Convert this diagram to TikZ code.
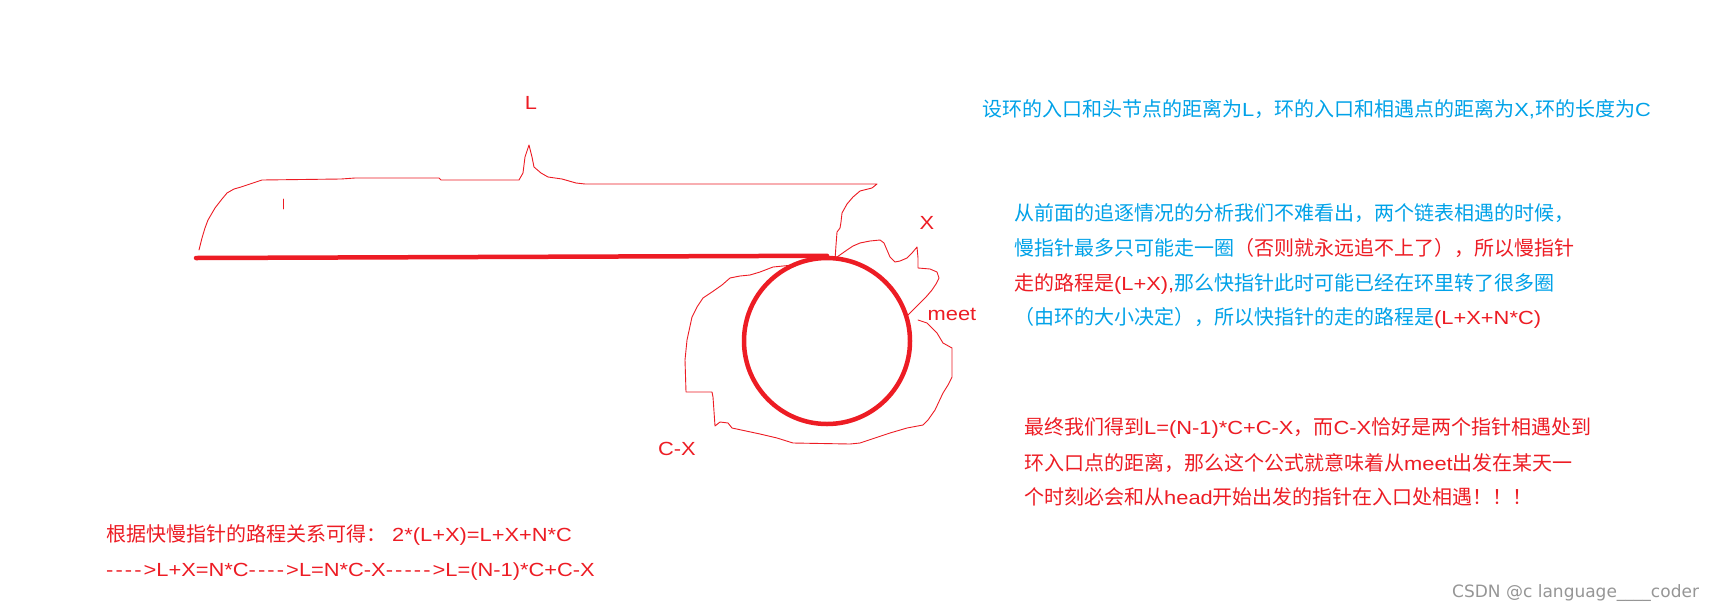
\documentclass[tikz,border=0pt]{standalone}
\usepackage{fontspec}
\newfontfamily\cjk{Noto Sans CJK SC}
\newfontfamily\lat[Scale=0.95,FakeStretch=1.15]{Liberation Sans}
\newfontfamily\wmfont{DejaVu Sans}
\newcommand\latn[1]{{\lat #1}}
\newcommand\dsh{-\kern2.1pt}
\definecolor{pred}{RGB}{237,28,36}
\definecolor{pblue}{RGB}{0,162,232}
\definecolor{wmgray}{RGB}{150,150,150}
\tikzset{
  txt/.style={anchor=base west, inner sep=0pt, font=\cjk\fontsize{20pt}{24pt}\selectfont},
  bluetxt/.style={txt, text=pblue},
  redtxt/.style={txt, text=pred},
  lbl/.style={inner sep=0pt, text=pred, font=\lat\fontsize{20pt}{24pt}\selectfont},
  hand/.style={draw=pred, line width=0.9pt, line join=round, line cap=round},
  heavy/.style={draw=pred, line width=4.5pt, line cap=round},
  ringstyle/.style={circle, draw=pred, line width=4.5pt, minimum size=166pt, inner sep=0pt},
  wmark/.style={anchor=base west, inner sep=0pt, text=wmgray, font=\wmfont\fontsize{17pt}{20pt}\selectfont}
}
\begin{document}
\begin{tikzpicture}[x=1pt, y=-1pt]
\useasboundingbox (0,0) rectangle (1724,611);
\fill[white] (0,0) rectangle (1724,611);

% ring and straight part
\coordinate (head) at (196,258);
\node[ringstyle] (ring) at (827,341) {};
\draw[heavy] (head) -- (ring.north);

% hand-drawn brace for L
\draw[hand] (199,250) -- (202,238) -- (205,228) -- (208,220) -- (215,208) -- (222,199) -- (227,193) -- (234,189) -- (241,187) -- (250,184) -- (262,180) -- (341,179) -- (355,178) -- (439,178) -- (441,180) -- (519,180) -- (523,173) -- (525,157) -- (529,145) -- (532,157) -- (534,167) -- (541,173) -- (548,177) -- (562,179) -- (576,183) -- (585,184) -- (877,184) -- (872,188) -- (860,191) -- (853,197) -- (847,204) -- (842,213) -- (841,222) -- (840,228) -- (837,232) -- (836,245) -- (835,260);
\draw[hand] (283,199) -- (283,209);

% hand-drawn brace for X
\draw[hand] (837,257) -- (847,250) -- (853,246) -- (860,243) -- (870,241) -- (880,240) -- (884,243) -- (887,250) -- (890,257) -- (895,262) -- (900,261) -- (907,258) -- (912,253) -- (917,247) -- (918,258) -- (918,268) -- (930,269) -- (937,272) -- (939,278) -- (936,284) -- (932,290) -- (926,297) -- (920,303) -- (914,309) -- (908,315);

% hand-drawn brace for C-X
\draw[hand] (918,320) -- (927,323) -- (932,328) -- (937,333) -- (943,343) -- (952,348) -- (952,377) -- (948,385) -- (943,393) -- (935,410) -- (928,420) -- (923,425) -- (907,428) -- (890,433) -- (860,443) -- (850,444) -- (793,443) -- (777,438) -- (760,434) -- (732,428) -- (728,423) -- (720,422) -- (715,426) -- (713,397) -- (712,392) -- (686,392) -- (685,360) -- (687,340) -- (692,317) -- (697,307) -- (703,298) -- (712,292) -- (722,285) -- (730,278) -- (740,276) -- (750,275) -- (760,272) -- (773,267) -- (783,266) -- (793,265);

% labels
\node[lbl] (lL) at (531,103) {L};
\node[lbl] (lX) at (927,223) {X};
\node[lbl] (lmeet) at (952,314) {meet};
\node[lbl] (lCX) at (677,449) {C-X};

% blue definition line
\node[bluetxt] (def) at (982,116) {设环的入口和头节点的距离为\latn{L}，环的入口和相遇点的距离为\latn{X,}环的长度为\latn{C}};

% explanation paragraph
\node[bluetxt] (p1) at (1014,220) {从前面的追逐情况的分析我们不难看出，两个链表相遇的时候，};
\node[bluetxt] (p2) at (1014,255.5) {慢指针最多只可能走一圈\textcolor{pred}{（否则就永远追不上了），所以慢指针}};
\node[bluetxt] (p3) at (1014,290) {\textcolor{pred}{走的路程是\latn{(L+X),}}那么快指针此时可能已经在环里转了很多圈};
\node[bluetxt] (p4) at (1014,324) {（由环的大小决定），所以快指针的走的路程是\textcolor{pred}{\latn{(L+X+N*C)}}};

% conclusion paragraph
\node[redtxt] (c1) at (1024,434.5) {最终我们得到\latn{L=(N-1)*C+C-X}，而\latn{C-X}恰好是两个指针相遇处到};
\node[redtxt] (c2) at (1024,470.5) {环入口点的距离，那么这个公式就意味着从\latn{meet}出发在某天一};
\node[redtxt] (c3) at (1024,504.5) {个时刻必会和从\latn{head}开始出发的指针在入口处相遇！！！};

% derivation
\node[redtxt] (d1) at (106,541.5) {根据快慢指针的路程关系可得：};
\node[redtxt] (d1f) at (392,541.5) {\latn{2*(L+X)=L+X+N*C}};
\node[redtxt] (d2) at (106,576.5) {\latn{\dsh\dsh\dsh\dsh>L+X=N*C\dsh\dsh\dsh\dsh>L=N*C-X\dsh\dsh\dsh\dsh\dsh>L=(N-1)*C+C-X}};

% watermark
\node[wmark] (wm) at (1452,597) {CSDN @c language\_\_\_\_coder};
\end{tikzpicture}
\end{document}
